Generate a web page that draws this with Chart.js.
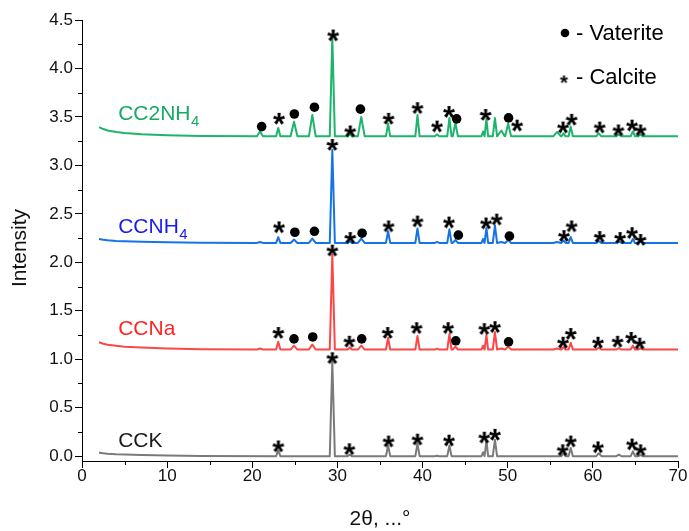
<!DOCTYPE html>
<html><head><meta charset="utf-8">
<script src="https://cdn.jsdelivr.net/npm/chart.js@4/dist/chart.umd.min.js"></script>
<style>html,body{margin:0;padding:0;background:#fff}#wrap{width:689px;height:531px}</style>
</head><body><div id="wrap"><canvas id="c" width="689" height="531"></canvas></div>
<script>
// ---------- data ----------
const xTicks = [0, 10, 20, 30, 40, 50, 60, 70];
const xMinorTicks = [5, 15, 25, 35, 45, 55, 65];
const yTicks = [0, 0.5, 1.0, 1.5, 2.0, 2.5, 3.0, 3.5, 4.0, 4.5];
const yMinorTicks = [0.25, 0.75, 1.25, 1.75, 2.25, 2.75, 3.25, 3.75, 4.25];

const seriesNames = ['CCK', 'CCNa', 'CCNH4', 'CC2NH4'];
const baseLevels = [0.00, 1.10, 2.20, 3.30];

// low-angle background (2θ) and its excess above the base level
const tailX = [2, 2.5, 3, 4, 5, 7, 10, 14];
const tailCCK    = [0.035, 0.030, 0.026, 0.020, 0.016, 0.011, 0.006, 0.002];
const tailCCNa   = [0.075, 0.060, 0.050, 0.038, 0.030, 0.020, 0.010, 0.004];
const tailCCNH4  = [0.040, 0.032, 0.027, 0.020, 0.016, 0.011, 0.006, 0.002];
const tailCC2NH4 = [0.095, 0.075, 0.060, 0.045, 0.035, 0.022, 0.012, 0.004];

// diffraction peaks (2θ), half width at base (°), heights above base
const peakPos       = [20.9, 23.05, 24.9, 27.05, 29.4, 31.45, 32.8, 35.95, 39.4, 41.7, 43.15, 43.85, 47.1, 47.5, 48.5, 49.25, 50.05, 55.8, 56.55, 57.4, 60.7, 63.05, 64.7, 65.6];
const peakHalfWidth = [0.35, 0.25, 0.4, 0.4, 0.3, 0.25, 0.4, 0.25, 0.25, 0.25, 0.25, 0.3, 0.18, 0.2, 0.25, 0.4, 0.35, 0.45, 0.25, 0.25, 0.3, 0.3, 0.25, 0.25];
const peaksCCK    = [0, 0.06, 0, 0, 0.98, 0.015, 0, 0.11, 0.13, 0.005, 0.11, 0, 0.04, 0.16, 0.17, 0, 0, 0, 0.03, 0.085, 0.03, 0.015, 0.05, 0.01];
const peaksCCNa   = [0.01, 0.08, 0.04, 0.05, 0.98, 0.02, 0.04, 0.12, 0.14, 0.01, 0.16, 0.03, 0.04, 0.15, 0.18, 0.01, 0.03, 0.01, 0.025, 0.07, 0.02, 0.015, 0.04, 0.015];
const peaksCCNH4  = [0.01, 0.06, 0.035, 0.045, 0.96, 0.02, 0.045, 0.12, 0.15, 0.01, 0.14, 0.03, 0.04, 0.155, 0.18, 0.01, 0.03, 0.01, 0.025, 0.06, 0.02, 0.015, 0.04, 0.015];
const peaksCC2NH4 = [0.05, 0.086, 0.15, 0.22, 1.02, 0.03, 0.2, 0.13, 0.22, 0.02, 0.19, 0.14, 0.05, 0.18, 0.19, 0.06, 0.13, 0.045, 0.03, 0.1, 0.03, 0.02, 0.05, 0.02];

// phase markers [2θ, intensity]
const calciteCCK = [[23.06,0.10],[29.4,1.01],[31.4,0.07],[36.0,0.15],[39.4,0.17],[43.1,0.16],[47.25,0.19],[48.5,0.22],[56.45,0.06],[57.4,0.15],[60.6,0.09],[64.6,0.12],[65.6,0.06]];
const calciteCCNa = [[23.06,1.27],[29.4,2.12],[31.4,1.18],[35.9,1.27],[39.3,1.32],[43.0,1.32],[47.25,1.31],[48.5,1.33],[56.5,1.17],[57.4,1.26],[60.6,1.17],[62.9,1.18],[64.5,1.22],[65.5,1.16]];
const calciteCCNH4 = [[23.14,2.36],[29.4,3.21],[31.5,2.25],[36.0,2.37],[39.4,2.42],[43.1,2.41],[47.45,2.40],[48.7,2.44],[56.6,2.27],[57.5,2.37],[60.8,2.26],[63.2,2.25],[64.6,2.30],[65.6,2.23]];
const calciteCC2NH4 = [[23.14,3.48],[29.5,4.34],[31.5,3.35],[36.0,3.48],[39.4,3.59],[41.7,3.40],[43.1,3.55],[47.4,3.52],[51.1,3.41],[56.5,3.39],[57.5,3.47],[60.8,3.39],[63.0,3.36],[64.6,3.41],[65.6,3.36]];
const vateriteCCNa = [[24.9,1.21],[27.1,1.23],[32.85,1.21],[43.9,1.19],[50.1,1.18]];
const vateriteCCNH4 = [[25.0,2.31],[27.3,2.32],[32.9,2.30],[44.2,2.28],[50.2,2.27]];
const vateriteCC2NH4 = [[21.1,3.40],[24.94,3.53],[27.3,3.60],[32.7,3.58],[44.0,3.48],[50.1,3.49]];

// ---------- styles ----------
const FONT = '"Liberation Sans", Arial, sans-serif';
const lineColors = ['#7a7a7a', '#ff4646', '#1673e6', '#1db46c'];
const textColors = ['#1a1a1a', '#ff2424', '#1a1af0', '#17aa64'];
// label anchors in data coordinates (2θ, intensity) for text baseline
const labelAnchors = [[4.25, 0.093], [4.25, 1.25], [4.25, 2.30], [4.25, 3.47]];

function buildSeries(tail, base, heights) {
  const pts = tailX.map((x, i) => ({x: x, y: base + tail[i]}));
  peakPos.forEach((p, i) => {
    if (heights[i] <= 0) return;
    pts.push({x: p - peakHalfWidth[i], y: base});
    pts.push({x: p, y: base + heights[i]});
    pts.push({x: p + peakHalfWidth[i], y: base});
  });
  pts.push({x: 70, y: base});
  return pts;
}

function makeStar(inkW, color) {
  const c = document.createElement('canvas');
  const p = c.getContext('2d');
  p.font = 'bold 100px ' + FONT;
  const m = p.measureText('*');
  const w100 = m.actualBoundingBoxLeft + m.actualBoundingBoxRight;
  const fs = 100 * inkW / w100;
  const size = Math.ceil(inkW * 1.8) + 4;
  c.width = size; c.height = size;
  const ctx = c.getContext('2d');
  ctx.font = 'bold ' + fs + 'px ' + FONT;
  const mm = ctx.measureText('*');
  const x = size / 2 - (mm.actualBoundingBoxRight - mm.actualBoundingBoxLeft) / 2;
  const y = size / 2 + (mm.actualBoundingBoxAscent - mm.actualBoundingBoxDescent) / 2;
  ctx.fillStyle = color;
  ctx.fillText('*', x, y);
  return c;
}
const starImg = makeStar(12, '#000');
const starLegendImg = makeStar(8, '#000');

const toPts = arr => arr.map(a => ({x: a[0], y: a[1]}));
const tails = [tailCCK, tailCCNa, tailCCNH4, tailCC2NH4];
const peaks = [peaksCCK, peaksCCNa, peaksCCNH4, peaksCC2NH4];

const datasets = [
  {label: 'Calcite', data: toPts([].concat(calciteCCK, calciteCCNa, calciteCCNH4, calciteCC2NH4)),
   pointStyle: starImg, pointRadius: 5, showLine: false, order: 0},
  {label: 'Vaterite', data: toPts([].concat(vateriteCCNa, vateriteCCNH4, vateriteCC2NH4)),
   pointStyle: 'circle', pointRadius: 4.8, backgroundColor: '#000', borderColor: '#000', borderWidth: 0, showLine: false, order: 0}
];
seriesNames.forEach((n, i) => {
  datasets.push({label: n, data: buildSeries(tails[i], baseLevels[i], peaks[i]),
    showLine: true, pointRadius: 0, borderColor: lineColors[i], borderWidth: 2,
    borderJoinStyle: 'round', tension: 0, fill: false, order: 1});
});

const decor = {
  id: 'decor',
  afterDraw(chart) {
    const ctx = chart.ctx, xs = chart.scales.x, ys = chart.scales.y;
    const area = chart.chartArea;
    ctx.save();
    // minor ticks
    ctx.strokeStyle = '#000'; ctx.lineWidth = 1;
    ctx.beginPath();
    yMinorTicks.forEach(v => { const py = Math.round(ys.getPixelForValue(v)) + 0.5; ctx.moveTo(area.left - 4, py); ctx.lineTo(area.left, py); });
    xMinorTicks.forEach(v => { const px = Math.round(xs.getPixelForValue(v)) + 0.5; ctx.moveTo(px, area.bottom); ctx.lineTo(px, area.bottom + 4); });
    ctx.stroke();
    // series labels
    ctx.textBaseline = 'alphabetic'; ctx.textAlign = 'left';
    seriesNames.forEach((n, i) => {
      const px = xs.getPixelForValue(labelAnchors[i][0]);
      const py = ys.getPixelForValue(labelAnchors[i][1]);
      ctx.fillStyle = textColors[i];
      const m = n.match(/^(.*?)(\d)$/);
      if (m && n.endsWith('H4')) {
        ctx.font = '21px ' + FONT;
        ctx.fillText(m[1], px, py);
        const w = ctx.measureText(m[1]).width;
        ctx.font = '15px ' + FONT;
        ctx.fillText(m[2], px + w + 0.5, py + 6);
      } else {
        ctx.font = '21px ' + FONT;
        ctx.fillText(n, px, py);
      }
    });
    // legend
    ctx.fillStyle = '#000';
    ctx.beginPath(); ctx.arc(565, 33, 4.3, 0, Math.PI * 2); ctx.fill();
    ctx.drawImage(starLegendImg, 564 - starLegendImg.width / 2, 79 - starLegendImg.height / 2);
    ctx.font = '22px ' + FONT; ctx.textBaseline = 'middle';
    ctx.fillText('- Vaterite', 576, 34);
    ctx.fillText('- Calcite', 576, 78);
    // y title
    ctx.translate(20.5, 248); ctx.rotate(-Math.PI / 2);
    ctx.textAlign = 'center'; ctx.textBaseline = 'middle';
    ctx.font = '21px ' + FONT; ctx.fillStyle = '#111';
    ctx.fillText('Intensity', 0, 0);
    ctx.restore();
  }
};

new Chart(document.getElementById('c'), {
  type: 'scatter',
  data: {datasets: datasets},
  plugins: [decor],
  options: {
    responsive: false, animation: false, events: [],
    layout: {padding: {top: 20, right: 11, left: 0, bottom: 0}},
    plugins: {legend: {display: false}, tooltip: {enabled: false}},
    scales: {
      x: {
        type: 'linear', min: 0, max: 70,
        afterFit: s => { s.height = 70; },
        afterBuildTicks: s => { s.ticks = xTicks.map(v => ({value: v})); },
        grid: {drawOnChartArea: false, drawTicks: true, tickLength: 7, tickColor: '#000', tickWidth: 1},
        border: {display: true, color: '#000', width: 1},
        ticks: {font: {size: 17, family: FONT}, color: '#111', padding: -2, maxRotation: 0, autoSkip: false},
        title: {display: true, text: '2θ, ...°', font: {size: 21, family: FONT}, color: '#111', padding: {top: 0, bottom: -1}}
      },
      y: {
        type: 'linear', min: -0.05, max: 4.5,
        afterFit: s => { s.width = 82; },
        afterBuildTicks: s => { s.ticks = yTicks.map(v => ({value: v})); },
        grid: {drawOnChartArea: false, drawTicks: true, tickLength: 7, tickColor: '#000', tickWidth: 1},
        border: {display: true, color: '#000', width: 1},
        ticks: {font: {size: 17, family: FONT}, color: '#111', padding: 2, autoSkip: false,
                callback: v => Number(v).toFixed(1)},
        title: {display: false}
      }
    }
  }
});
</script>
</body></html>
